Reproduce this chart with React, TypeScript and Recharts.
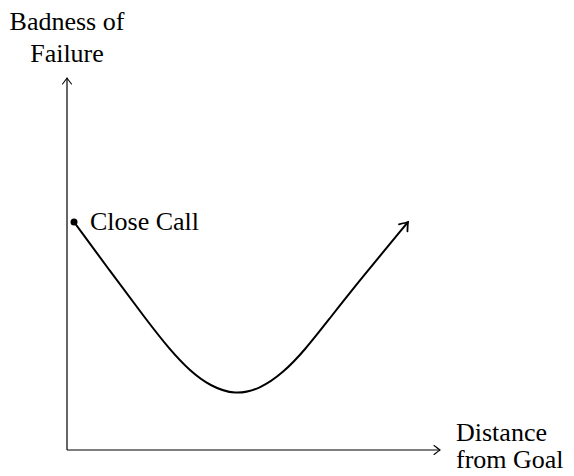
import React from "react";
import { LineChart, Line, XAxis, YAxis, ReferenceLine } from "recharts";

// Distance from goal (x) and badness of failure (y)
const distance = [7, 43, 78, 103, 123, 143, 168, 193, 216, 238, 263, 293, 341];
const badness = [228, 179, 132, 100, 79, 64, 55, 61, 77, 100, 132, 170, 228];
const yTitle = ["Badness of", "Failure"];
const xTitle = ["Distance", "from Goal"];
const pointLabel = "Close Call";

const data = distance.map((d, i) => ({ d, b: badness[i] }));

const FONT = "'Liberation Serif', serif";
const FS = 26;

const StartDot = (props: any) => {
  const { cx, cy, index } = props;
  if (index !== 0) return <g key={`d${index}`} />;
  return (
    <g key={`d${index}`}>
      <circle cx={cx} cy={cy} r={3.5} fill="#000" />
      <text x={cx + 16} y={cy + 8} fontFamily={FONT} fontSize={FS} fill="#000">
        {pointLabel}
      </text>
    </g>
  );
};

const XArrow = (p: any) => {
  const { x1, y1, x2, y2 } = p;
  return (
    <g>
      <line x1={x1} y1={y1} x2={x2} y2={y2} stroke="#000" strokeWidth={1.2} markerEnd="url(#axArrow)" />
      <text x={x2 + 16} y={y2 - 9} fontFamily={FONT} fontSize={FS} fill="#000">{xTitle[0]}</text>
      <text x={x2 + 16} y={y2 + 18} fontFamily={FONT} fontSize={FS} fill="#000">{xTitle[1]}</text>
    </g>
  );
};

const YArrow = (p: any) => {
  const { x1, y1, x2, y2 } = p;
  const topX = y1 < y2 ? x1 : x2;
  const topY = Math.min(y1, y2);
  const botY = Math.max(y1, y2);
  return (
    <g>
      <line x1={topX} y1={botY} x2={topX} y2={topY} stroke="#000" strokeWidth={1.2} markerEnd="url(#axArrow)" />
      <text x={topX} y={topY - 48} textAnchor="middle" fontFamily={FONT} fontSize={FS} fill="#000">{yTitle[0]}</text>
      <text x={topX} y={topY - 16} textAnchor="middle" fontFamily={FONT} fontSize={FS} fill="#000">{yTitle[1]}</text>
    </g>
  );
};

export default function App() {
  return (
    <div style={{ position: "absolute", left: 0, top: 0, width: 574, height: 476, background: "#fff" }}>
      <svg width={0} height={0} style={{ position: "absolute" }}>
        <defs>
          <marker id="axArrow" markerUnits="userSpaceOnUse" viewBox="-8 -6 10 12" refX={0} refY={0}
            markerWidth={10} markerHeight={12} orient="auto" overflow="visible">
            <path d="M -6 -4.5 Q -1.5 -1 0 0 Q -1.5 1 -6 4.5" fill="none" stroke="#000" strokeWidth={1.1} strokeLinecap="round" />
          </marker>
          <marker id="curveArrow" markerUnits="userSpaceOnUse" viewBox="-10 -8 12 16" refX={0} refY={0}
            markerWidth={12} markerHeight={16} orient="auto" overflow="visible">
            <path d="M -7.5 -5.5 Q -2 -1.2 0 0 Q -2 1.2 -7.5 5.5" fill="none" stroke="#000" strokeWidth={1.8} strokeLinecap="round" />
          </marker>
        </defs>
      </svg>
      <LineChart width={574} height={476} data={data} margin={{ top: 78, right: 134, bottom: 26, left: 67 }}>
        <XAxis dataKey="d" type="number" domain={[0, 373]} hide />
        <YAxis type="number" domain={[0, 372]} hide />
        <ReferenceLine segment={[{ x: 0, y: 0 }, { x: 373, y: 0 }]} shape={XArrow} ifOverflow="visible" />
        <ReferenceLine segment={[{ x: 0, y: 0 }, { x: 0, y: 372 }]} shape={YArrow} ifOverflow="visible" />
        <Line
          dataKey="b"
          type="basis"
          stroke="#000"
          strokeWidth={2}
          dot={StartDot}
          activeDot={false}
          markerEnd="url(#curveArrow)"
          isAnimationActive={false}
        />
      </LineChart>
    </div>
  );
}
